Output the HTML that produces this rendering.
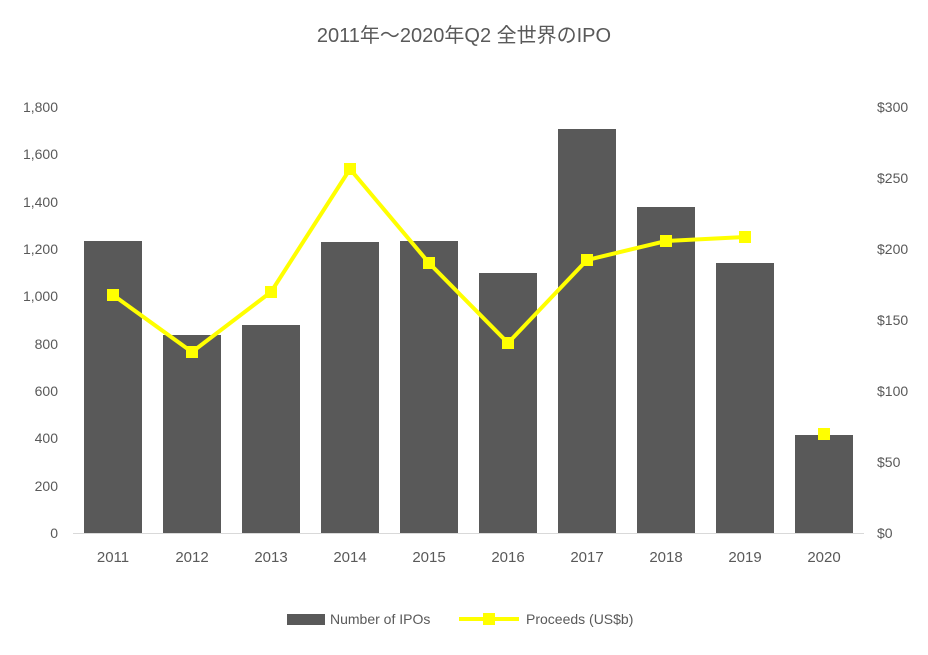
<!DOCTYPE html>
<html><head><meta charset="utf-8"><style>
body{margin:0;background:#fff}
text{font-family:"Liberation Sans","Noto Sans CJK JP",sans-serif;fill:#595959}
</style></head><body>
<svg width="928" height="650" xmlns="http://www.w3.org/2000/svg">
<rect width="928" height="650" fill="#fff"/>
<text x="464" y="42" font-size="20" text-anchor="middle">2011年～2020年Q2 全世界のIPO</text>
<g font-size="14" text-anchor="end">
<text x="58" y="538">0</text><text x="58" y="491">200</text><text x="58" y="443">400</text>
<text x="58" y="396">600</text><text x="58" y="349">800</text><text x="58" y="301">1,000</text>
<text x="58" y="254">1,200</text><text x="58" y="207">1,400</text><text x="58" y="159">1,600</text>
<text x="58" y="112">1,800</text>
</g>
<g font-size="14" text-anchor="start">
<text x="877" y="538">$0</text><text x="877" y="467">$50</text><text x="877" y="396">$100</text>
<text x="877" y="325">$150</text><text x="877" y="254">$200</text><text x="877" y="183">$250</text>
<text x="877" y="112">$300</text>
</g>
<line x1="73" y1="533.5" x2="864" y2="533.5" stroke="#d9d9d9"/>
<g fill="#595959">
<rect x="84" y="241" width="58" height="292"/>
<rect x="163" y="335" width="58" height="198"/>
<rect x="242" y="325" width="58" height="208"/>
<rect x="321" y="242" width="58" height="291"/>
<rect x="400" y="241" width="58" height="292"/>
<rect x="479" y="273" width="58" height="260"/>
<rect x="558" y="129" width="58" height="404"/>
<rect x="637" y="207" width="58" height="326"/>
<rect x="716" y="263" width="58" height="270"/>
<rect x="795" y="435" width="58" height="98"/>
</g>
<g font-size="15" text-anchor="middle">
<text x="113" y="562">2011</text><text x="192" y="562">2012</text><text x="271" y="562">2013</text>
<text x="350" y="562">2014</text><text x="429" y="562">2015</text><text x="508" y="562">2016</text>
<text x="587" y="562">2017</text><text x="666" y="562">2018</text><text x="745" y="562">2019</text>
<text x="824" y="562">2020</text>
</g>
<polyline fill="none" stroke="#ffff00" stroke-width="4" points="113,295 192,352 271,292 350,169 429,263 508,343 587,260 666,241 745,237"/>
<g fill="#ffff00">
<rect x="107" y="289" width="12" height="12"/><rect x="186" y="346" width="12" height="12"/>
<rect x="265" y="286" width="12" height="12"/><rect x="344" y="163" width="12" height="12"/>
<rect x="423" y="257" width="12" height="12"/><rect x="502" y="337" width="12" height="12"/>
<rect x="581" y="254" width="12" height="12"/><rect x="660" y="235" width="12" height="12"/>
<rect x="739" y="231" width="12" height="12"/><rect x="818" y="428" width="12" height="12"/>
</g>
<rect x="287" y="614" width="38" height="11" fill="#595959"/>
<text x="330" y="624" font-size="14">Number of IPOs</text>
<line x1="459" y1="619" x2="519" y2="619" stroke="#ffff00" stroke-width="4"/>
<rect x="483" y="613" width="12" height="12" fill="#ffff00"/>
<text x="526" y="624" font-size="14">Proceeds (US$b)</text>
</svg>
</body></html>
